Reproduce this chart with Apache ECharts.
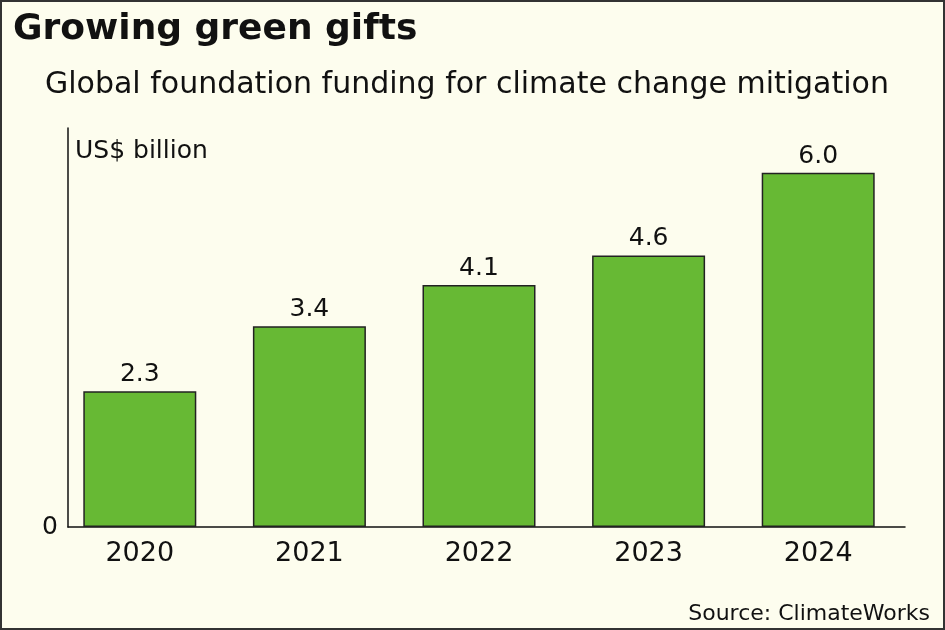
<!DOCTYPE html>
<html>
<head>
<meta charset="utf-8">
<script src="https://cdn.jsdelivr.net/npm/echarts@6/dist/echarts.min.js"></script>
<style>
  html, body { margin: 0; padding: 0; background: #fdfdee; }
  #wrap { position: relative; width: 945px; height: 630px; }
  #chart { width: 945px; height: 630px; }
  #frame { position: absolute; left: 0; top: 0; width: 945px; height: 630px;
           box-sizing: border-box; border: 2px solid #333; pointer-events: none; }
</style>
</head>
<body>
<div id="wrap">
  <div id="chart"></div>
  <div id="frame"></div>
</div>
<script>
// data
const years = ["2020", "2021", "2022", "2023", "2024"];
const funding = [2.3, 3.4, 4.1, 4.6, 6.0]; // US$ billion
const yMax = 6.76;

const font = "DejaVu Sans";
const ink = "#111";

const chart = echarts.init(document.getElementById("chart"));

chart.setOption({
  backgroundColor: "#fdfdee",
  animation: false,
  title: [
    {
      text: "Growing green gifts",
      left: 8, top: 7,
      textStyle: { fontFamily: font, fontSize: 36, fontWeight: "bold", color: ink }
    },
    {
      text: "Global foundation funding for climate change mitigation",
      left: 40, top: 65,
      textStyle: { fontFamily: font, fontSize: 30, fontWeight: "normal", color: ink }
    },
    {
      text: "US$ billion",
      left: 70, top: 134,
      textStyle: { fontFamily: font, fontSize: 25, fontWeight: "normal", color: ink }
    },
    {
      text: "Source: ClimateWorks",
      right: 10, top: 598,
      textStyle: { fontFamily: font, fontSize: 22, fontWeight: "normal", color: ink }
    }
  ],
  grid: [
    // bars
    { left: 55, right: 42, top: 128, bottom: 103 },
    // axis lines only
    { left: 68, right: 40, top: 128, bottom: 103 }
  ],
  xAxis: [
    {
      type: "category", gridIndex: 0, data: years,
      axisLine: { show: false }, axisTick: { show: false },
      axisLabel: { fontFamily: font, fontSize: 27, color: ink, margin: 13 }
    },
    {
      type: "value", gridIndex: 1, min: 0, max: 1,
      axisLine: { show: true, lineStyle: { color: ink, width: 1.5 } },
      axisTick: { show: false }, axisLabel: { show: false }, splitLine: { show: false }
    }
  ],
  yAxis: [
    {
      type: "value", gridIndex: 0, min: 0, max: yMax,
      axisLine: { show: false }, axisTick: { show: false },
      axisLabel: { show: false }, splitLine: { show: false }
    },
    {
      type: "value", gridIndex: 1, min: 0, max: yMax,
      axisLine: { show: true, lineStyle: { color: ink, width: 1.5 } },
      axisTick: { show: false }, splitLine: { show: false },
      axisLabel: {
        fontFamily: font, fontSize: 25, color: ink, margin: 10,
        formatter: (v) => (v === 0 ? "0" : "")
      }
    }
  ],
  series: [
    {
      type: "bar",
      xAxisIndex: 0, yAxisIndex: 0,
      data: funding,
      barWidth: 113,
      itemStyle: { color: "#67b934", borderColor: "#222", borderWidth: 1.5 },
      label: {
        show: true, position: "top", distance: 4,
        fontFamily: font, fontSize: 25, color: ink,
        formatter: (p) => p.value.toFixed(1)
      }
    }
  ]
});
</script>
</body>
</html>
